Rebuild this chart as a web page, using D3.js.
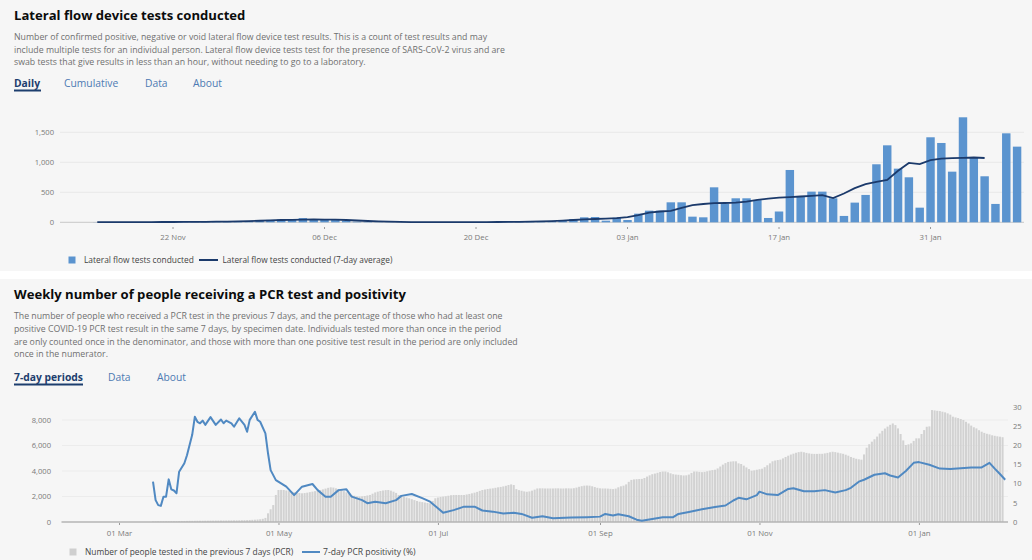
<!DOCTYPE html>
<html><head><meta charset="utf-8">
<script src="https://cdn.jsdelivr.net/npm/d3@7"></script>
<style>
body{margin:0;background:#fff;}
svg{display:block;font-family:"Open Sans",sans-serif;}
</style></head><body>
<svg id="c" width="1032" height="560"></svg>
<script>
// ---------- Lateral flow device tests (daily) ----------
const lfdStart = "2020-11-12";
const lfdDaily = [
  0,0,0,2,3,3,4,5,4,5,6,5,7,8,10,12,10,20,35,
  40,45,40,70,50,45,40,25,10,5,3,3,2,3,3,2,3,3,2,3,3,4,5,10,5,10,20,38,55,83,88,
  27,78,38,144,194,194,333,333,94,83,583,310,400,400,370,72,180,872,439,511,511,400,106,328,456,967,1283,894,750,244,1417,
  1322,844,1750,1083,767,306,1483,1261
];
const lfdAvgStart = "2020-11-15";
const lfdAvg = [
  2,3,3,3,4,4,5,5,6,7,8,10,12,15,20,26,
  32,38,42,46,47,46,44,38,30,22,15,10,6,4,3,3,3,3,3,3,4,5,6,8,10,14,20,28,38,48,55,
  62,68,85,120,160,180,190,240,285,305,318,322,328,345,375,395,410,420,430,440,452,405,480,570,635,675,705,860,990,970,1035,
  1060,1070,1075,1080,1072
];
const lfdXTicks = ["2020-11-22","2020-12-06","2020-12-20","2021-01-03","2021-01-17","2021-01-31"];
const lfdYTicks = [0,500,1000,1500];

// ---------- PCR tests: people tested (7 days) and positivity ----------
const pcrStart = "2020-03-14";
const pcrTested = [
  40,45,50,50,55,60,60,65,70,70,75,80,80,85,90,90,95,100,
  100,100,105,105,110,110,115,115,120,120,120,125,125,130,130,135,140,145,150,160,170,180,195,215,250,320,680,1000,1330,2120,
  2510,2520,2510,2470,2420,2380,2340,2300,2270,2250,2270,2300,2340,2380,2420,2470,2510,2560,2620,2680,2720,2700,2640,2580,2510,2420,2330,2240,2120,2060,2010,
  1990,2010,2040,2080,2120,2220,2320,2380,2430,2470,2500,2510,2460,2380,2280,2120,2050,1980,1920,1860,1790,1720,1650,1590,1560,1530,1490,1460,1650,1860,
  1920,1960,1990,2020,2060,2100,2120,2120,2120,2120,2120,2160,2200,2250,2300,2360,2440,2510,2550,2590,2620,2640,2680,2720,2750,2790,2840,2900,2950,2900,2580,
  2500,2450,2400,2370,2400,2460,2540,2630,2640,2640,2630,2630,2630,2630,2640,2640,2630,2630,2640,2640,2630,2650,2700,2760,2810,2850,2860,2850,2800,2740,2680,
  2640,2630,2630,2620,2600,2580,2620,2720,2800,2850,2950,3150,3300,3340,3360,3370,3380,3450,3560,3660,3750,3800,3860,3920,3960,3960,3900,3820,3750,3720,
  3700,3670,3650,3660,3720,3850,3960,3960,3930,3910,3930,3980,4030,4070,4100,4200,4350,4500,4620,4710,4740,4760,4760,4600,4550,4420,4280,4150,4020,4050,4100,
  4140,4180,4300,4450,4600,4760,4820,4860,4890,4990,5100,5200,5290,5360,5430,5480,5510,5470,5420,5380,5350,5340,5340,5350,5350,5380,5420,5470,5510,5480,
  5440,5390,5350,5280,5200,5100,5030,4960,4920,4890,5300,5830,6100,6300,6490,6700,6940,7150,7330,7480,7620,7730,7600,7340,6900,6400,6040,6090,6170,6360,6560,
  6560,6900,7210,7470,7500,8780,8750,8720,8700,8650,8600,8520,8420,8260,8200,8150,8080,8000,7860,7730,7560,7430,7340,7200,7080,6990,6920,6870,6800,6760,6720,
  6690,6650
];
const posDates = [
  "2020-03-14","2020-03-15","2020-03-16","2020-03-17","2020-03-18","2020-03-19","2020-03-20","2020-03-21","2020-03-22","2020-03-23",
  "2020-03-24","2020-03-26","2020-03-27","2020-03-29","2020-03-30","2020-03-31","2020-04-01","2020-04-02","2020-04-03","2020-04-05",
  "2020-04-07","2020-04-09","2020-04-10","2020-04-11","2020-04-13","2020-04-14","2020-04-16","2020-04-18","2020-04-19","2020-04-20",
  "2020-04-22","2020-04-23","2020-04-24","2020-04-26","2020-04-27","2020-04-28","2020-04-30","2020-05-04","2020-05-07","2020-05-10",
  "2020-05-14","2020-05-16","2020-05-19","2020-05-21","2020-05-24","2020-05-27","2020-05-29","2020-06-02","2020-06-04","2020-06-07",
  "2020-06-11","2020-06-15","2020-06-17","2020-06-21","2020-06-25","2020-06-28","2020-07-01","2020-07-03","2020-07-07","2020-07-11",
  "2020-07-15","2020-07-18","2020-07-22","2020-07-26","2020-07-30","2020-08-02","2020-08-06","2020-08-10","2020-08-14","2020-08-21",
  "2020-08-27","2020-09-01","2020-09-03","2020-09-06","2020-09-08","2020-09-12","2020-09-15","2020-09-17","2020-09-21","2020-09-25",
  "2020-09-29","2020-10-01","2020-10-05","2020-10-10","2020-10-15","2020-10-19","2020-10-22","2020-10-24","2020-10-27","2020-10-31",
  "2020-11-01","2020-11-04","2020-11-08","2020-11-12","2020-11-14","2020-11-18","2020-11-22","2020-11-26","2020-11-30","2020-12-04",
  "2020-12-06","2020-12-09","2020-12-11","2020-12-15","2020-12-19","2020-12-21","2020-12-24","2020-12-27","2020-12-30","2021-01-01",
  "2021-01-05","2021-01-09","2021-01-13","2021-01-17","2021-01-21","2021-01-25","2021-01-28","2021-01-30","2021-02-01","2021-02-03"
];
const posValues = [
  10.5,5.7,4.4,4.2,6.6,6.6,11.1,8.5,8.2,7.5,
  13.1,15.3,17.4,22.7,27.4,26.1,25.7,26.4,25.3,27.3,
  25.3,26.7,25.7,26.4,25.7,24.8,27.0,25.3,23.5,26.6,
  28.7,26.6,26.1,23.1,17.9,13.5,10.9,9.2,7.0,9.2,
  9.9,8.3,6.6,6.6,8.3,8.5,6.6,5.7,4.9,5.3,
  4.9,5.7,6.8,7.3,6.2,5.3,3.6,2.4,3.1,4.0,
  4.0,3.0,2.7,2.2,2.4,2.1,1.1,1.5,1.0,1.15,
  1.25,1.4,2.1,1.7,2.0,1.5,0.6,0.35,0.8,1.25,
  1.25,2.1,2.6,3.3,3.9,4.3,5.6,6.3,5.9,7.0,
  7.9,7.2,7.0,8.6,8.8,8.0,8.0,8.3,7.7,8.3,
  8.9,10.5,11.0,12.3,12.7,12.1,11.6,13.3,15.4,15.6,
  14.9,13.9,13.8,14.0,14.2,14.2,15.4,13.9,12.5,11.0
];
const pcrXTicks = ["2020-03-01","2020-05-01","2020-07-01","2020-09-01","2020-11-01","2021-01-01"];
const pcrLeftTicks = [0,2000,4000,6000,8000];
const pcrRightTicks = [0,5,10,15,20,25,30];

// ---------- drawing ----------
const parse = d3.utcParse("%Y-%m-%d");
const fmtDay = d3.utcFormat("%d %b");
const fmtNum = d3.format(",");
const svg = d3.select("#c");
const CARD = "#f6f6f6";

svg.append("rect").attr("x",0).attr("y",0).attr("width",1032).attr("height",271).attr("fill",CARD);
svg.append("rect").attr("x",0).attr("y",279).attr("width",1032).attr("height",281).attr("fill",CARD);

function text(x,y,str,size,fill,weight){
  return svg.append("text").attr("x",x).attr("y",y).text(str)
    .attr("font-size",size).attr("fill",fill).attr("font-weight",weight||400);
}

// ----- header top -----
text(14,19.5,"Lateral flow device tests conducted",13.1,"#0b0c0c",700);
const desc1 = [
 "Number of confirmed positive, negative or void lateral flow device test results. This is a count of test results and may",
 "include multiple tests for an individual person. Lateral flow device tests test for the presence of SARS-CoV-2 virus and are",
 "swab tests that give results in less than an hour, without needing to go to a laboratory."
];
desc1.forEach((s,i)=>text(14,40.3+i*12.5,s,8.75,"#6f6f6f"));
text(14,87,"Daily",10.3,"#1d3e6e",700);
text(64,87,"Cumulative",10.3,"#4d7ab3");
text(145,87,"Data",10.3,"#4d7ab3");
text(193,87,"About",10.3,"#4d7ab3");
svg.append("rect").attr("x",14).attr("y",89.5).attr("width",27).attr("height",2).attr("fill","#1d3e6e");

// ----- top chart -----
const lfdDates = lfdDaily.map((v,i)=>d3.utcDay.offset(parse(lfdStart),i));
const xT = d3.scaleBand().domain(lfdDates).range([59.4,1022.5]).paddingInner(0.22).paddingOuter(0.11);
const yT = d3.scaleLinear().domain([0,1500]).range([222.3,132.3]);
const gT = svg.append("g");
gT.selectAll("line.grid").data(lfdYTicks).join("line")
  .attr("x1",60).attr("x2",1024).attr("y1",d=>yT(d)).attr("y2",d=>yT(d))
  .attr("stroke",d=>d===0?"#c8c8c8":"#e9e9e9").attr("stroke-width",1);
gT.selectAll("text.yl").data(lfdYTicks).join("text")
  .attr("x",54).attr("y",d=>yT(d)+2.7).attr("text-anchor","end")
  .attr("font-size",7.6).attr("fill","#7a7a7a").text(d=>fmtNum(d));
gT.selectAll("rect.bar").data(lfdDaily).join("rect")
  .attr("x",(d,i)=>xT(lfdDates[i])).attr("width",xT.bandwidth())
  .attr("y",d=>yT(d)).attr("height",d=>yT(0)-yT(d)).attr("fill","#5b94cf");
const avgData = lfdAvg.map((v,i)=>({date:d3.utcDay.offset(parse(lfdAvgStart),i),v}));
gT.append("path").datum(avgData)
  .attr("d",d3.line().x(d=>xT(d.date)+xT.bandwidth()/2).y(d=>yT(d.v)))
  .attr("fill","none").attr("stroke","#1b3a6b").attr("stroke-width",1.8);
const axT = d3.axisBottom(xT).tickValues(lfdXTicks.map(parse)).tickFormat(fmtDay).tickSize(2).tickPadding(5);
const gAxT = svg.append("g").attr("transform","translate(0,227)").call(axT);
gAxT.select(".domain").remove();
gAxT.selectAll("line").attr("stroke","#9a9a9a");
gAxT.selectAll("text").attr("font-size",7.8).attr("fill","#7a7a7a").attr("font-family","Open Sans");

// legend top
svg.append("rect").attr("x",68.5).attr("y",256.5).attr("width",7).attr("height",7).attr("fill","#5b94cf");
text(84,263,"Lateral flow tests conducted",8.4,"#444");
svg.append("line").attr("x1",199).attr("x2",218).attr("y1",260).attr("y2",260).attr("stroke","#1b3a6b").attr("stroke-width",2);
text(222.5,263,"Lateral flow tests conducted (7-day average)",8.3,"#444");

// ----- header bottom -----
text(14,298.5,"Weekly number of people receiving a PCR test and positivity",13.1,"#0b0c0c",700);
const desc2 = [
 "The number of people who received a PCR test in the previous 7 days, and the percentage of those who had at least one",
 "positive COVID-19 PCR test result in the same 7 days, by specimen date. Individuals tested more than once in the period",
 "are only counted once in the denominator, and those with more than one positive test result in the period are only included",
 "once in the numerator."
];
desc2.forEach((s,i)=>text(14,319+i*12.8,s,8.75,"#6f6f6f"));
text(14,380.5,"7-day periods",10.3,"#1d3e6e",700);
text(108,380.5,"Data",10.3,"#4d7ab3");
text(157,380.5,"About",10.3,"#4d7ab3");
svg.append("rect").attr("x",14).attr("y",383.5).attr("width",69).attr("height",2).attr("fill","#1d3e6e");

// ----- bottom chart -----
const xB = d3.scaleUtc().domain([parse("2020-02-08"),parse("2021-02-04")]).range([61.5,1007.8]);
const yL = d3.scaleLinear().domain([0,9000]).range([522,407.25]);
const yR = d3.scaleLinear().domain([0,30]).range([522,406.8]);
const gB = svg.append("g");
gB.selectAll("line.grid").data(pcrLeftTicks.slice(1)).join("line")
  .attr("x1",62).attr("x2",1008).attr("y1",d=>yL(d)).attr("y2",d=>yL(d))
  .attr("stroke","#ececec").attr("stroke-width",1);
const testedData = pcrTested.map((v,i)=>({date:d3.utcDay.offset(parse(pcrStart),i),v}));
gB.selectAll("rect.t").data(testedData).join("rect")
  .attr("x",d=>xB(d.date)-1).attr("width",2)
  .attr("y",d=>yL(d.v)).attr("height",d=>yL(0)-yL(d.v)).attr("fill","#d2d2d2");
gB.append("line").attr("x1",61.5).attr("x2",1008).attr("y1",522).attr("y2",522)
  .attr("stroke","#b4b4b4").attr("stroke-width",1.6);
const posData = posDates.map((d,i)=>({date:parse(d),v:posValues[i]}));
gB.append("path").datum(posData)
  .attr("d",d3.line().x(d=>xB(d.date)).y(d=>yR(d.v)))
  .attr("fill","none").attr("stroke","#5089c2").attr("stroke-width",2).attr("stroke-linejoin","round");
gB.selectAll("text.yl").data(pcrLeftTicks).join("text")
  .attr("x",51).attr("y",d=>yL(d)+2.7).attr("text-anchor","end")
  .attr("font-size",7.6).attr("fill","#7a7a7a").text(d=>fmtNum(d));
gB.selectAll("text.yr").data(pcrRightTicks).join("text")
  .attr("x",1013).attr("y",d=>yR(d)+2.7)
  .attr("font-size",7.6).attr("fill","#7a7a7a").text(d=>d);
const axB = d3.axisBottom(xB).tickValues(pcrXTicks.map(parse)).tickFormat(fmtDay).tickSize(2).tickPadding(5);
const gAxB = svg.append("g").attr("transform","translate(0,523)").call(axB);
gAxB.select(".domain").remove();
gAxB.selectAll("line").attr("stroke","#9a9a9a");
gAxB.selectAll("text").attr("font-size",7.8).attr("fill","#7a7a7a").attr("font-family","Open Sans");

// legend bottom
svg.append("rect").attr("x",69.5).attr("y",548.5).attr("width",7).attr("height",7).attr("fill","#cfcfcf");
text(85,555,"Number of people tested in the previous 7 days (PCR)",8.4,"#444");
svg.append("line").attr("x1",302).attr("x2",320).attr("y1",552).attr("y2",552).attr("stroke","#5089c2").attr("stroke-width",2);
text(323,555,"7-day PCR positivity (%)",8.6,"#444");
</script>
</body></html>
